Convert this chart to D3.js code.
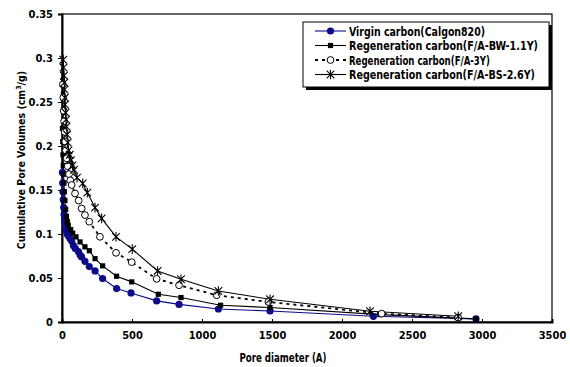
<!DOCTYPE html>
<html lang="en">
<head>
<meta charset="UTF-8">
<title>Cumulative Pore Volumes</title>
<style>
    body { margin: 0; background: #fff; }
    svg text {
        font-family: "Liberation Sans Narrow", "DejaVu Sans Condensed", "Arial Narrow", sans-serif;
        font-weight: bold;
        fill: #000;
    }
</style>
</head>
<body>
<div id="chart"></div>
<script src="https://d3js.org/d3.v7.min.js"></script>
<script>
    // values (pore diameter in A, volume in cm3/g)
    const virginX = [3, 5, 7, 9, 12, 15, 19, 24, 30, 37, 45, 57, 69, 81, 95, 117, 129, 140, 164, 195, 236, 290, 390, 493, 676, 836, 1117, 1486, 2224, 2957];
    const virginY = [0.17, 0.158, 0.148, 0.139, 0.13, 0.122, 0.115, 0.109, 0.104, 0.1, 0.098, 0.095, 0.092, 0.087, 0.0836, 0.08, 0.076, 0.074, 0.069, 0.063, 0.058, 0.0494, 0.038, 0.033, 0.024, 0.020, 0.0148, 0.0125, 0.0065, 0.0035];

    const bwX = [3, 5, 7, 9, 11, 14, 17, 21, 26, 32, 38, 45, 62, 76, 100, 129, 164, 195, 236, 290, 390, 498, 688, 850, 1133, 1486, 2271, 2957];
    const bwY = [0.22, 0.205, 0.19, 0.178, 0.168, 0.158, 0.148, 0.138, 0.128, 0.12, 0.114, 0.110, 0.105, 0.101, 0.0968, 0.091, 0.0854, 0.081, 0.072, 0.0638, 0.052, 0.0456, 0.0315, 0.0278, 0.019, 0.0164, 0.0084, 0.0035];

    const f3X = [6, 9, 12, 15, 19, 23, 28, 34, 41, 50, 59, 69, 93, 119, 140, 164, 195, 271, 386, 498, 676, 836, 1105, 1474, 2283, 2830];
    const f3Y = [0.27, 0.255, 0.24, 0.228, 0.216, 0.205, 0.195, 0.186, 0.177, 0.168, 0.161, 0.1557, 0.146, 0.138, 0.129, 0.1215, 0.114, 0.0968, 0.0786, 0.068, 0.049, 0.0418, 0.0304, 0.0228, 0.0095, 0.005];

    const bsX = [9, 11, 14, 16, 18, 20, 21, 25, 29, 32, 36, 41, 46, 55, 64, 75, 86, 107, 148, 181, 236, 283, 386, 502, 683, 850, 1117, 1486, 2200, 2830];
    const bsY = [0.298, 0.289, 0.28, 0.272, 0.264, 0.255, 0.247, 0.238, 0.23, 0.222, 0.213, 0.204, 0.195, 0.19, 0.184, 0.178, 0.173, 0.164, 0.1575, 0.147, 0.130, 0.1177, 0.0968, 0.0828, 0.058, 0.0486, 0.0353, 0.0258, 0.0122, 0.0065];

    const seriesNames = [
        "Virgin carbon(Calgon820)",
        "Regeneration carbon(F/A-BW-1.1Y)",
        "Regeneration carbon(F/A-3Y)",
        "Regeneration carbon(F/A-BS-2.6Y)"
    ];
    const xTicks = [0, 500, 1000, 1500, 2000, 2500, 3000, 3500];
    const yTicks = [0, 0.05, 0.1, 0.15, 0.2, 0.25, 0.3, 0.35];

    const width = 570, height = 367;
    const margin = { top: 14, right: 18, bottom: 45, left: 62 };

    const svg = d3.select("#chart").append("svg")
        .attr("width", width)
        .attr("height", height);

    const x = d3.scaleLinear().domain([0, 3500]).range([margin.left, width - margin.right]);
    const y = d3.scaleLinear().domain([0, 0.35]).range([height - margin.bottom, margin.top]);

    const zip = (xs, ys) => xs.map((v, i) => [v, ys[i]]);
    const series = [
        { name: seriesNames[0], data: zip(virginX, virginY), color: "#0c0c8a", dash: null, marker: "dot", tl: 136 },
        { name: seriesNames[1], data: zip(bwX, bwY), color: "#000", dash: null, marker: "square", tl: 189 },
        { name: seriesNames[2], data: zip(f3X, f3Y), color: "#000", dash: "3,4", marker: "circle", tl: 141 },
        { name: seriesNames[3], data: zip(bsX, bsY), color: "#000", dash: null, marker: "star", tl: 186 }
    ];

    // plot frame
    svg.append("rect")
        .attr("x", x(0)).attr("y", y(0.35))
        .attr("width", x(3500) - x(0)).attr("height", y(0) - y(0.35))
        .attr("fill", "none").attr("stroke", "#000").attr("stroke-width", 1.2);

    // axes
    const xAxis = svg.append("g")
        .attr("transform", `translate(0,${y(0)})`)
        .call(d3.axisBottom(x).tickValues(xTicks).tickSize(-3).tickPadding(9).tickFormat(d3.format("d")));
    const yAxis = svg.append("g")
        .attr("transform", `translate(${x(0)},0)`)
        .call(d3.axisLeft(y).tickValues(yTicks).tickSize(4).tickPadding(5).tickFormat(d => d === 0 ? "0" : d3.format("~g")(d)));
    [xAxis, yAxis].forEach(g => {
        g.select(".domain").attr("stroke", "#000").attr("stroke-width", 2);
        g.selectAll(".tick line").attr("stroke", "#000");
        g.selectAll("text").attr("font-size", 11).attr("fill", "#000");
    });

    // axis titles
    svg.append("text")
        .attr("x", 283).attr("y", 362)
        .attr("text-anchor", "middle").attr("font-size", 12.5)
        .attr("textLength", 87).attr("lengthAdjust", "spacingAndGlyphs")
        .text("Pore diameter (A)");
    const yTitle = svg.append("text")
        .attr("transform", `translate(25,160) rotate(-90)`)
        .attr("text-anchor", "middle").attr("font-size", 10.5);
    yTitle.append("tspan").text("Cumulative Pore Volumes (cm");
    yTitle.append("tspan").attr("font-size", 7).attr("dy", -4).text("3");
    yTitle.append("tspan").attr("dy", 4).text("/g)");

    function drawMarker(g, type, color) {
        if (type === "dot") {
            g.append("circle").attr("r", 3.6).attr("fill", color);
        } else if (type === "square") {
            g.append("rect").attr("x", -2.6).attr("y", -2.6).attr("width", 5.2).attr("height", 5.2).attr("fill", color);
        } else if (type === "circle") {
            g.append("circle").attr("r", 3.4).attr("fill", "#fff").attr("stroke", color).attr("stroke-width", 1);
        } else {
            const s = 3.8;
            g.append("path")
                .attr("d", `M${-s},${-s}L${s},${s}M${-s},${s}L${s},${-s}M0,${-s - 1}L0,${s + 1}`)
                .attr("stroke", color).attr("stroke-width", 1.1).attr("fill", "none");
        }
    }

    const line = d3.line().x(d => x(d[0])).y(d => y(d[1]));

    series.forEach(s => {
        svg.append("path")
            .attr("d", line(s.data))
            .attr("fill", "none")
            .attr("stroke", s.color)
            .attr("stroke-width", s.dash ? 1.8 : 1.1)
            .attr("stroke-dasharray", s.dash);
    });
    series.forEach(s => {
        s.data.forEach(d => {
            const g = svg.append("g").attr("transform", `translate(${x(d[0])},${y(d[1])})`);
            drawMarker(g, s.marker, s.color);
        });
    });

    // legend
    const lg = svg.append("g");
    const lx = 303, ly = 22, lw = 246, lh = 65;
    lg.append("rect").attr("x", lx + 3).attr("y", ly + 3).attr("width", lw).attr("height", lh).attr("fill", "#000");
    lg.append("rect").attr("x", lx).attr("y", ly).attr("width", lw).attr("height", lh)
        .attr("fill", "#fff").attr("stroke", "#000").attr("stroke-width", 1);
    series.forEach((s, i) => {
        const ry = 31 + i * 14.5;
        lg.append("line")
            .attr("x1", 315).attr("x2", 346).attr("y1", ry).attr("y2", ry)
            .attr("stroke", s.color)
            .attr("stroke-width", s.dash ? 1.8 : 1.1)
            .attr("stroke-dasharray", s.dash);
        const g = lg.append("g").attr("transform", `translate(330.5,${ry})`);
        drawMarker(g, s.marker, s.color);
        lg.append("text")
            .attr("x", 349).attr("y", ry + 4.5)
            .attr("font-size", 12.5)
            .attr("textLength", s.tl).attr("lengthAdjust", "spacingAndGlyphs")
            .text(s.name);
    });
</script>
</body>
</html>
